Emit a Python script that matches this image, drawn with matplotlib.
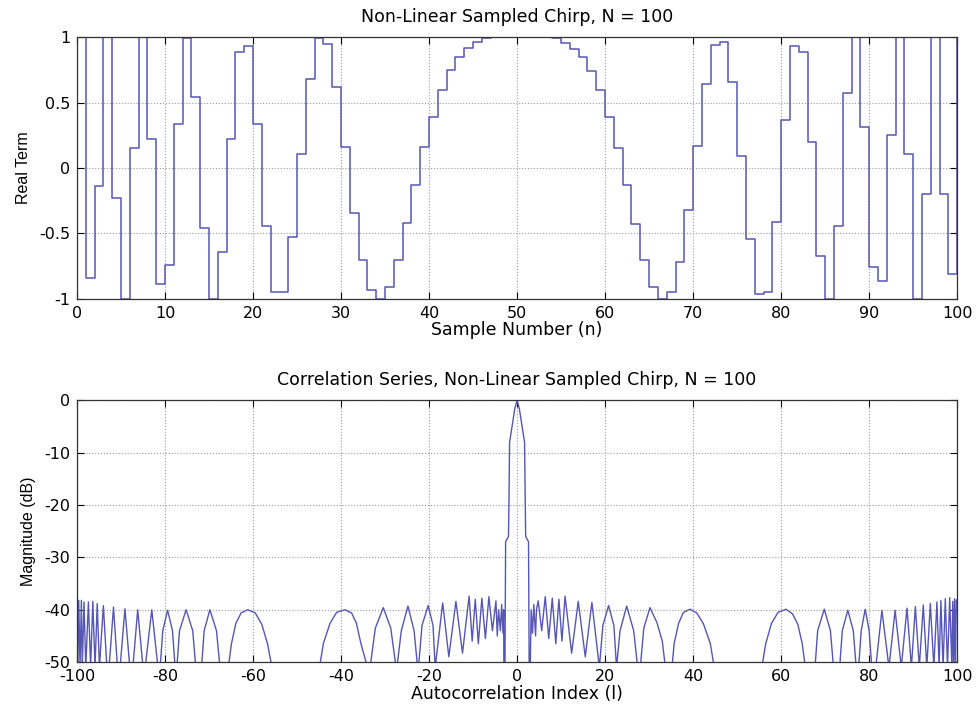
import numpy as np
import matplotlib
matplotlib.use("Agg")
import matplotlib.pyplot as plt

# Plot inputs
FIGSIZE = (9.78, 7.15)
DPI = 100
LINE_COLOR = "#5656b4"
GRID_COLOR = "#9a9a9a"
FONTSIZE = 12.5
FONTSIZE_TICKS = 11.5
plt.rcParams["font.family"] = ["DejaVu Sans"]
plt.rcParams["axes.unicode_minus"] = False

# Top panel: real term of the sampled chirp, n = 0 .. 100
SAMPLE_N = list(range(0, 101))
REAL_TERM = [
    1.00, -0.84, -0.14, 1.00, -0.23, -1.00, 0.15, 1.00, 0.22, -0.89,
    -0.74, 0.34, 0.99, 0.54, -0.46, -1.00, -0.64, 0.22, 0.89, 0.93,
    0.34, -0.44, -0.95, -0.95, -0.53, 0.11, 0.68, 0.99, 0.95, 0.62,
    0.16, -0.34, -0.70, -0.93, -1.00, -0.91, -0.70, -0.42, -0.13, 0.16,
    0.39, 0.60, 0.75, 0.85, 0.92, 0.96, 0.99, 1.00, 1.00, 1.00,
    1.00, 1.00, 1.00, 1.00, 0.99, 0.955, 0.91, 0.85, 0.74, 0.60,
    0.39, 0.155, -0.13, -0.43, -0.70, -0.91, -1.00, -0.95, -0.72, -0.32,
    0.17, 0.64, 0.94, 0.96, 0.66, 0.09, -0.54, -0.96, -0.95, -0.41,
    0.37, 0.93, 0.89, 0.20, -0.67, -1.00, -0.44, 0.57, 1.00, 0.31,
    -0.76, -0.86, 0.25, 1.00, 0.11, -1.00, -0.20, 1.00, -0.20, -0.81,
    1.00,
]

# Bottom panel: correlation magnitude in dB, vertices
# (values below the -50 dB floor are only shown as -51)
LAG_NEG = [
    -100.0, -99.8, -99.6, -99.3, -99.0, -98.8, -98.4, -98.0, -97.4, -96.9,
    -96.4, -95.9, -95.4, -94.9, -94.0, -93.2, -92.7, -91.7, -90.8, -90.2,
    -89.1, -88.0, -87.3, -86.2, -85.0, -84.5, -83.0, -81.6, -81.1, -80.5,
    -79.4, -78.3, -77.7, -77.3, -76.7, -75.2, -73.7, -73.0, -71.7, -71.1,
    -69.8, -68.3, -67.5,
    -65.6, -64.9, -63.9, -62.7, -61.2, -59.5, -58.0, -56.7, -55.7,
    -44.9, -44.0, -42.5, -41.0, -39.1, -37.6, -36.5, -35.5, -34.0,
    -33.4, -32.2, -30.4, -28.7, -27.5, -27.3, -26.3, -24.8, -23.4, -22.6,
    -22.4, -21.6, -20.2, -19.1, -18.6, -16.9, -15.5, -13.9, -12.4, -10.9,
    -10.2, -9.5, -8.8, -8.0, -7.2, -6.4, -5.6, -4.8, -4.5, -4.2,
    -3.8, -3.5, -3.2, -3.05, -3.0, -2.75, -2.6, -1.95, -1.85, -1.7,
    -1.0, -0.5,
]
DB_NEG = [
    -38.0, -51.0, -38.2, -51.0, -38.2, -51.0, -38.5, -51.0, -38.5, -51.0,
    -38.4, -51.0, -38.8, -51.0, -39.2, -51.0, -51.0, -39.5, -51.0, -51.0,
    -39.8, -51.0, -51.0, -40.0, -51.0, -51.0, -40.0, -51.0, -51.0, -44.0,
    -40.1, -44.0, -51.0, -51.0, -44.0, -40.0, -44.0, -51.0, -51.0, -44.0,
    -40.0, -44.0, -51.0,
    -51.0, -46.5, -42.6, -40.6, -40.0, -40.6, -42.8, -46.5, -51.0,
    -51.0, -46.4, -42.6, -40.5, -40.0, -40.6, -42.6, -46.4, -51.0,
    -51.0, -43.5, -39.6, -43.5, -51.0, -51.0, -44.0, -39.3, -44.0, -51.0,
    -51.0, -43.0, -39.2, -43.0, -51.0, -38.7, -49.0, -38.4, -48.3, -37.4,
    -46.0, -38.0, -46.5, -37.8, -45.5, -37.5, -44.0, -38.3, -45.0, -40.0,
    -44.0, -39.0, -44.5, -40.0, -51.0, -51.0, -27.0, -26.0, -20.0, -8.0,
    -4.2, -1.5,
]
LAG_POS = [
    0.0, 0.5, 1.0, 1.7, 1.85, 1.95, 2.6, 2.75, 3.0, 3.2,
    3.5, 3.8, 4.2, 4.4, 4.8, 5.6, 6.4, 7.2, 8.0, 8.8,
    9.5, 10.2, 10.9, 12.4, 13.9, 15.5, 17.0, 18.7, 19.5, 20.8,
    22.0, 22.6, 23.4, 24.9, 26.5, 27.4, 28.0, 28.8, 30.2, 31.8,
    33.0, 33.7, 35.2, 35.7, 36.7, 37.8, 39.3, 40.8, 42.3, 43.9,
    44.8,
    55.6, 56.5, 57.8, 59.3, 61.1, 62.6, 63.8, 64.8, 65.5,
    67.7, 68.3, 69.8, 71.2, 71.9, 73.3, 73.9, 75.15, 76.4, 77.05,
    77.6, 78.2, 79.1, 80.0, 80.6, 81.5, 82.9, 84.5, 85.9, 87.3,
    88.6, 89.6, 90.5, 91.4, 92.3, 93.1, 93.9, 94.7, 95.4, 95.9,
    96.3, 96.8, 97.3, 97.8, 98.3, 98.8, 99.0, 99.2, 99.4, 99.6,
    99.8, 100.0,
]
DB_POS = [
    0.0, -1.5, -4.2, -8.0, -20.0, -26.0, -27.0, -51.0, -51.0, -40.0,
    -44.5, -39.0, -45.0, -40.0, -38.3, -44.0, -37.5, -45.5, -37.8, -46.5,
    -38.0, -46.0, -37.4, -48.3, -38.4, -49.0, -38.6, -51.0, -43.0, -39.2,
    -43.0, -51.0, -44.0, -39.3, -44.0, -51.0, -51.0, -43.5, -39.6, -42.5,
    -46.0, -51.0, -51.0, -46.4, -42.6, -40.5, -39.9, -40.6, -42.6, -46.4,
    -51.0,
    -51.0, -46.5, -42.6, -40.5, -39.9, -40.8, -42.8, -46.5, -51.0,
    -51.0, -44.0, -39.9, -44.0, -51.0, -51.0, -44.0, -40.1, -44.0, -51.0,
    -51.0, -44.0, -39.9, -44.0, -51.0, -51.0, -40.1, -51.0, -40.1, -51.0,
    -39.7, -51.0, -39.4, -51.0, -39.1, -51.0, -38.8, -51.0, -38.5, -51.0,
    -38.2, -51.0, -37.9, -51.0, -37.7, -51.0, -38.4, -51.0, -37.9, -51.0,
    -38.2, -38.0,
]


def axes_style(ax):
    ax.grid(True, color=GRID_COLOR, linestyle=":", linewidth=0.8)
    ax.tick_params(direction="in", top=True, right=True, length=5,
                   labelsize=FONTSIZE_TICKS)
    ax.tick_params(axis="x", pad=5)
    ax.tick_params(axis="y", pad=5)
    for s in ax.spines.values():
        s.set_linewidth(0.9)
        s.set_color("#333333")


def main():
    fig = plt.figure(figsize=FIGSIZE, dpi=DPI)
    ax0 = fig.add_axes([0.0787, 0.582, 0.9, 0.366])
    ax1 = fig.add_axes([0.0787, 0.074, 0.9, 0.366])

    ax0.step(SAMPLE_N, REAL_TERM, where="post", color=LINE_COLOR, linewidth=1.1)
    ax0.set_xlim(0, 100)
    ax0.set_ylim(-1, 1)
    ax0.set_xticks(np.arange(0, 101, 10))
    ax0.set_yticks([-1, -0.5, 0, 0.5, 1])
    ax0.set_yticklabels(["-1", "-0.5", "0", "0.5", "1"])
    ax0.set_xlabel("Sample Number (n)", fontsize=FONTSIZE, labelpad=0)
    ax0.set_ylabel("Real Term", fontsize=11.5, labelpad=6,
                   family="Liberation Sans")
    ax0.set_title("Non-Linear Sampled Chirp, N = 100", fontsize=FONTSIZE, pad=11)
    axes_style(ax0)

    lag = LAG_NEG + LAG_POS
    mag = DB_NEG + DB_POS
    ax1.plot(lag, mag, color=LINE_COLOR, linewidth=1.0)
    ax1.set_xlim(-100, 100)
    ax1.set_ylim(-50, 0)
    ax1.set_xticks(np.arange(-100, 101, 20))
    ax1.set_yticks(np.arange(-50, 1, 10))
    ax1.set_xlabel("Autocorrelation Index (l)", fontsize=FONTSIZE, labelpad=1)
    ax1.set_ylabel("Magnitude (dB)", fontsize=11.5, labelpad=6,
                   family="Liberation Sans")
    ax1.set_title("Correlation Series, Non-Linear Sampled Chirp, N = 100",
                  fontsize=FONTSIZE, pad=11)
    axes_style(ax1)

    fig.savefig("out.png", dpi=DPI)


if __name__ == "__main__":
    main()
